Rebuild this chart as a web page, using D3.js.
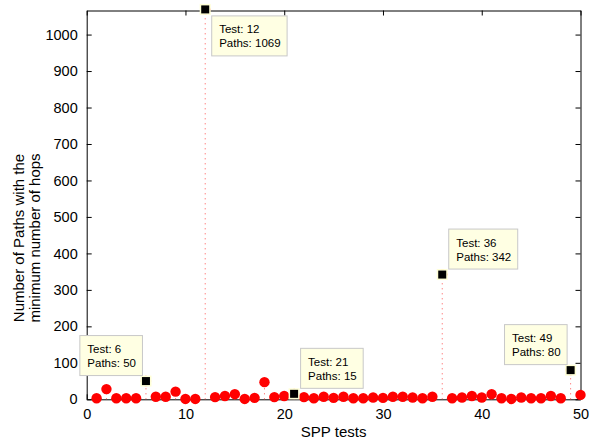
<!DOCTYPE html>
<html lang="en">
<head>
  <meta charset="UTF-8">
  <title>SPP tests</title>
  <script src="https://d3js.org/d3.v7.min.js"></script>
  <style>
    body {
      margin: 0;
      padding: 0;
      background: #fff;
    }
    svg text {
      font-family: Arial, "Liberation Sans", sans-serif;
      fill: #000;
    }
    .tip text {
      font-size: 11.5px;
    }
  </style>
</head>
<body>
  <div id="chart"></div>

  <script>
  // number of paths with the minimum number of hops, one per SPP test
  const tests = d3.range(1, 51);
  const paths = [3, 28, 3, 3, 3, 50, 7, 7, 21, 1,
                 1, 1069, 6, 9, 14, 1, 4, 47, 6, 9,
                 15, 6, 3, 7, 4, 7, 3, 3, 5, 4,
                 7, 7, 5, 3, 7, 342, 3, 5, 9, 5,
                 14, 3, 1, 5, 3, 3, 9, 3, 80, 12];
  // data tips shown on the chart
  const tipTests = [6, 12, 21, 36, 49];
  const xTicks = [0, 10, 20, 30, 40, 50];
  const yTicks = d3.range(0, 1001, 100);

  const width = 589, height = 441;
  const margin = {top: 10.5, right: 8.5, bottom: 41.7, left: 86.7};
  // where each tip box sits relative to its point
  const tipSide = {6: "nw", 12: "se", 21: "ne", 36: "ne", 49: "nw"};

  const svg = d3.select("#chart").append("svg")
    .attr("width", width)
    .attr("height", height);

  const x = d3.scaleLinear().domain([0, 50]).range([margin.left, width - margin.right]);
  const y = d3.scaleLinear().domain([0, 1066]).range([height - margin.bottom, margin.top]);

  const x0 = x.range()[0], x1 = x.range()[1];
  const y0 = y.range()[0], y1 = y.range()[1];

  // axes, MATLAB style: box with ticks pointing inwards
  const axisBottom = d3.axisBottom(x).tickValues(xTicks).tickSizeInner(-5).tickSizeOuter(0).tickPadding(9).tickFormat(d3.format("d"));
  const axisTop = d3.axisTop(x).tickValues(xTicks).tickSizeInner(-5).tickSizeOuter(0).tickFormat("");
  const axisLeft = d3.axisLeft(y).tickValues(yTicks).tickSizeInner(-5).tickSizeOuter(0).tickPadding(9).tickFormat(d3.format("d"));
  const axisRight = d3.axisRight(y).tickValues(yTicks).tickSizeInner(-5).tickSizeOuter(0).tickFormat("");

  function styleAxis(g) {
    g.select(".domain").attr("stroke", "#000").attr("stroke-width", 1);
    g.selectAll(".tick line").attr("stroke", "#000");
    g.selectAll(".tick text").style("font-size", "14.5px").attr("fill", "#000");
  }

  svg.append("g").attr("transform", `translate(0,${y0})`).call(axisBottom).call(styleAxis);
  svg.append("g").attr("transform", `translate(0,${y1})`).call(axisTop).call(styleAxis);
  svg.append("g").attr("transform", `translate(${x0},0)`).call(axisLeft).call(styleAxis);
  svg.append("g").attr("transform", `translate(${x1},0)`).call(axisRight).call(styleAxis);

  // axis labels
  svg.append("text")
    .attr("x", (x0 + x1) / 2)
    .attr("y", 437)
    .attr("text-anchor", "middle")
    .style("font-size", "15px")
    .text("SPP tests");

  const yLabel = svg.append("text")
    .attr("transform", "translate(0,238) rotate(-90)")
    .attr("text-anchor", "middle")
    .style("font-size", "15px");
  yLabel.append("tspan").attr("x", 0).attr("y", 24).text("Number of Paths with the");
  yLabel.append("tspan").attr("x", 0).attr("y", 40).text("minimum number of hops");

  const data = tests.map((t, i) => ({test: t, paths: paths[i]}));

  // dotted stems
  svg.append("g").selectAll("line")
    .data(data)
    .enter().append("line")
    .attr("x1", d => x(d.test))
    .attr("x2", d => x(d.test))
    .attr("y1", y(0))
    .attr("y2", d => y(d.paths))
    .attr("stroke", "#ff5050")
    .attr("stroke-width", 1)
    .attr("stroke-dasharray", "1,4");

  // markers
  svg.append("g").selectAll("circle")
    .data(data)
    .enter().append("circle")
    .attr("cx", d => x(d.test))
    .attr("cy", d => y(d.paths))
    .attr("r", 5.2)
    .attr("fill", "#ff0000");

  // data tips
  const tipData = data.filter(d => tipTests.includes(d.test));
  const tips = svg.append("g").selectAll("g")
    .data(tipData)
    .enter().append("g")
    .attr("class", "tip");

  tips.append("rect")
    .attr("x", d => x(d.test) - 5.5)
    .attr("y", d => y(d.paths) - 5.5)
    .attr("width", 11)
    .attr("height", 11)
    .attr("fill", "#ffffd6");
  tips.append("rect")
    .attr("x", d => x(d.test) - 4)
    .attr("y", d => y(d.paths) - 4)
    .attr("width", 8)
    .attr("height", 8)
    .attr("fill", "#000");

  tips.each(function (d) {
    const g = d3.select(this);
    const box = g.append("rect")
      .attr("fill", "#ffffe3")
      .attr("stroke", "#c8c8c8")
      .attr("stroke-width", 1);
    const t1 = g.append("text").text(`Test: ${d.test}`);
    const t2 = g.append("text").text(`Paths: ${d.paths}`);
    const tw = Math.max(t1.node().getComputedTextLength(), t2.node().getComputedTextLength());
    const bw = tw + 14, bh = 40;
    const px = x(d.test), py = y(d.paths);
    const side = tipSide[d.test];
    const bx = side === "nw" ? px - 4 - bw : px + 6;
    const by = side === "se" ? py + 6 : py - 6 - bh;
    box.attr("x", bx + 0.5).attr("y", by + 0.5).attr("width", bw).attr("height", bh);
    t1.attr("x", bx + 8).attr("y", by + 18);
    t2.attr("x", bx + 8).attr("y", by + 32);
  });
  </script>
</body>
</html>
